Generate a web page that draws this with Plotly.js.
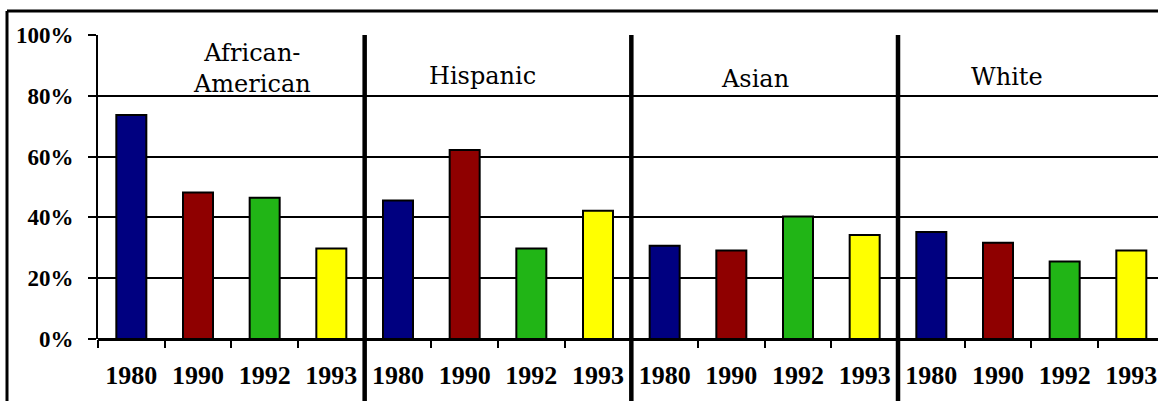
<!DOCTYPE html>
<html>
<head>
<meta charset="utf-8">
<script src="https://cdn.plot.ly/plotly-3.0.1.min.js"></script>
<style>html,body{margin:0;padding:0;background:#fff;}#chart{width:1158px;height:401px;}</style>
</head>
<body>
<div id="chart"></div>
<script>
// ---- data ----
const groups = ['African-<br>American', 'Hispanic', 'Asian', 'White'];
const years = ['1980', '1990', '1992', '1993'];
const africanAmerican = [73.7, 48.2, 46.5, 29.8];
const hispanic = [45.6, 62.2, 29.8, 42.2];
const asian = [30.7, 29.1, 40.3, 34.2];
const white = [35.2, 31.7, 25.5, 29.1];
const yTickVals = [0, 20, 40, 60, 80, 100];
const yTickText = ['0%', '20%', '40%', '60%', '80%', '100%'];
const yearColors = ['#000080', '#8f0000', '#21b516', '#ffff00'];

const series = [africanAmerican, hispanic, asian, white];
const xs = [], ys = [], cols = [], labels = [];
series.forEach((vals, g) => {
  vals.forEach((v, j) => {
    xs.push(g * years.length + j);
    ys.push(v);
    cols.push(yearColors[j]);
    labels.push(years[j]);
  });
});
const xRange = [-0.5, 15.4];
const W = 1158, H = 401;
const M = {l: 98, r: 0, t: 35, b: 62};
const pw = W - M.l - M.r, ph = H - M.t - M.b;
const toPaperX = v => (v - xRange[0]) / (xRange[1] - xRange[0]);
const pxToPaperX = px => (px - M.l) / pw;
const pxToPaperY = py => (H - M.b - py) / ph;

const shapes = [];
// thick group separators
for (let g = 1; g < groups.length; g++) {
  const xv = toPaperX(g * years.length - 0.5);
  shapes.push({type: 'line', xref: 'paper', yref: 'paper', x0: xv, x1: xv,
    y0: 1, y1: pxToPaperY(H + 2), line: {color: '#000', width: 4.5}, layer: 'above'});
}
// outer frame (top and left)
shapes.push({type: 'line', xref: 'paper', yref: 'paper', x0: pxToPaperX(7), x1: pxToPaperX(W + 2),
  y0: pxToPaperY(11), y1: pxToPaperY(11), line: {color: '#000', width: 3}});
shapes.push({type: 'line', xref: 'paper', yref: 'paper', x0: pxToPaperX(7), x1: pxToPaperX(7),
  y0: pxToPaperY(11), y1: pxToPaperY(H + 2), line: {color: '#000', width: 3}});

const labelOffsets = [0.31, -0.24, -0.15, -0.36];
const labelY = [89, 86.4, 85.5, 86.1];
const annotations = groups.map((g, i) => ({
  x: i * years.length + (years.length - 1) / 2 + labelOffsets[i],
  y: labelY[i], xref: 'x', yref: 'y', text: g, showarrow: false,
  xanchor: 'center', yanchor: 'middle',
  font: {family: 'DejaVu Serif', size: 24, color: '#000'}
}));

const trace = {
  type: 'bar', x: xs, y: ys, width: 0.45,
  marker: {color: cols, line: {color: '#000', width: 2}},
  hoverinfo: 'skip'
};

const layout = {
  width: W, height: H, margin: M,
  paper_bgcolor: '#fff', plot_bgcolor: '#fff',
  showlegend: false, bargap: 0,
  font: {family: 'Liberation Serif', color: '#000'},
  xaxis: {
    range: xRange, fixedrange: true,
    tickmode: 'array', tickvals: xs, ticktext: labels, ticks: '',
    tickfont: {family: 'Liberation Serif', size: 26, weight: 'bold', color: '#000'},
    ticklabelstandoff: 18,
    showgrid: false, zeroline: false, showline: false,
    minor: {tickmode: 'linear', tick0: -0.5, dtick: 1, ticks: 'outside', ticklen: 8,
      tickwidth: 2, tickcolor: '#000', showgrid: false}
  },
  yaxis: {
    range: [0, 100], fixedrange: true,
    tickmode: 'array', tickvals: yTickVals, ticktext: yTickText,
    ticks: 'outside', ticklen: 8, tickwidth: 2, tickcolor: '#000',
    ticklabelstandoff: 10,
    tickfont: {family: 'Liberation Serif', size: 23, weight: 'bold', color: '#000'},
    showgrid: true, gridcolor: '#000', gridwidth: 2,
    zeroline: true, zerolinecolor: '#000', zerolinewidth: 3,
    showline: true, linecolor: '#000', linewidth: 2
  },
  shapes: shapes,
  annotations: annotations
};

Plotly.newPlot('chart', [trace], layout, {displayModeBar: false, staticPlot: true});
</script>
</body>
</html>
